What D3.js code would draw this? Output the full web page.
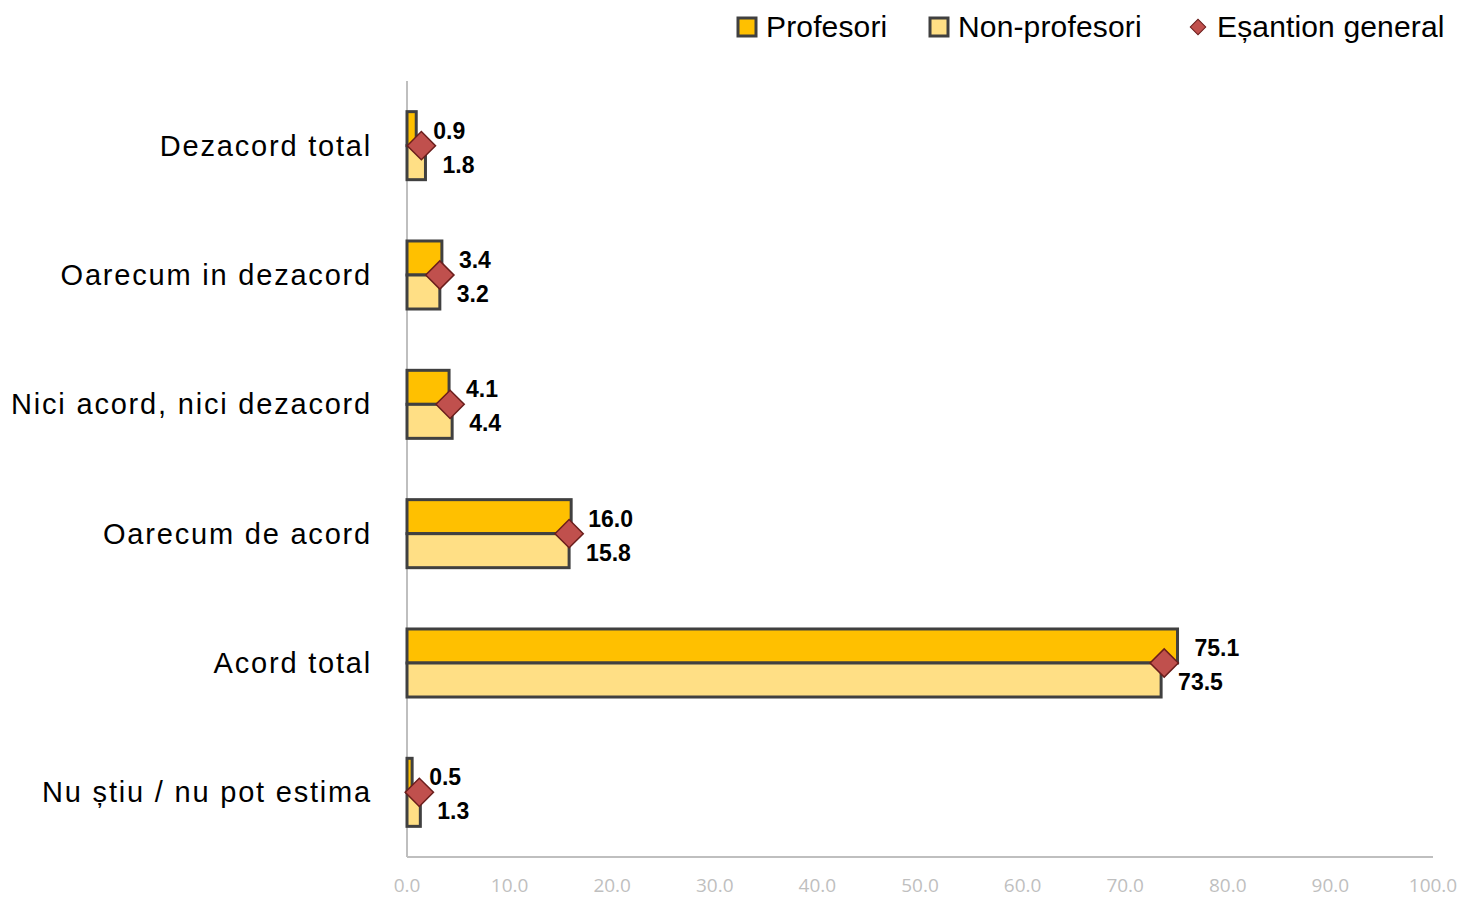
<!DOCTYPE html>
<html>
<head>
<meta charset="utf-8">
<script src="https://cdn.jsdelivr.net/npm/d3@7"></script>
<style>
  body { margin: 0; background: #fff; }
  svg { display: block; font-family: "Liberation Sans", Arial, sans-serif; }
</style>
</head>
<body>
<div id="chart"></div>
<script>
const categories = [`Dezacord total`, `Oarecum in dezacord`, `Nici acord, nici dezacord`, `Oarecum de acord`, `Acord total`, `Nu știu / nu pot estima`];
const profesori = [0.9, 3.4, 4.1, 16.0, 75.1, 0.5];
const nonProfesori = [1.8, 3.2, 4.4, 15.8, 73.5, 1.3];
const esantion = [1.4, 3.2, 4.2, 15.8, 73.8, 1.2];
const xTicks = [0, 10, 20, 30, 40, 50, 60, 70, 80, 90, 100];
const seriesNames = [`Profesori`, `Non-profesori`];
const seriesColors = [`#FFC000`, `#FFDF85`];

const width = 1463, height = 899;
const margin = { top: 81, right: 30, bottom: 42, left: 407 };

const svg = d3.select(`#chart`).append(`svg`)
    .attr(`width`, width)
    .attr(`height`, height);

const x = d3.scaleLinear()
  .domain([0, 100])
  .range([margin.left, width - margin.right]);

const y = d3.scaleBand()
  .domain(categories)
  .range([margin.top, height - margin.bottom])
  .paddingInner(0.474)
  .paddingOuter(0.237);

const ySub = d3.scaleBand()
  .domain(seriesNames)
  .range([0, y.bandwidth()]);

// axes lines
svg.append(`line`)
    .attr(`x1`, x(0)).attr(`x2`, x(100))
    .attr(`y1`, height - margin.bottom).attr(`y2`, height - margin.bottom)
    .attr(`stroke`, `#BFBFBF`).attr(`stroke-width`, 2);
svg.append(`line`)
    .attr(`x1`, x(0)).attr(`x2`, x(0))
    .attr(`y1`, margin.top).attr(`y2`, height - margin.bottom)
    .attr(`stroke`, `#BFBFBF`).attr(`stroke-width`, 2);

// x tick labels
svg.selectAll(`.tick-label`)
    .data(xTicks)
  .enter().append(`text`)
    .attr(`class`, `tick-label`)
    .attr(`x`, (d) => x(d))
    .attr(`y`, height - margin.bottom + 28)
    .attr(`dy`, `0.35em`)
    .attr(`text-anchor`, `middle`)
    .attr(`fill`, `#BFBFBF`)
    .style(`font-family`, `"Open Sans", sans-serif`)
    .style(`font-size`, `19px`)
    .text((d) => d3.format(`.1f`)(d));

// category labels
svg.selectAll(`.cat-label`)
    .data(categories)
  .enter().append(`text`)
    .attr(`class`, `cat-label`)
    .attr(`x`, 372)
    .attr(`y`, (d) => y(d) + y.bandwidth() / 2)
    .attr(`dy`, `0.35em`)
    .attr(`text-anchor`, `end`)
    .attr(`fill`, `#000`)
    .style(`font-size`, `29px`)
    .style(`letter-spacing`, `1.8px`)
    .text((d) => d);

// bars
const allSeries = [profesori, nonProfesori];
allSeries.forEach((vals, si) => {
  const name = seriesNames[si];
  svg.selectAll(`.bar-${si}`)
      .data(vals)
    .enter().append(`rect`)
      .attr(`class`, `bar-${si}`)
      .attr(`x`, x(0))
      .attr(`y`, (d, i) => y(categories[i]) + ySub(name))
      .attr(`width`, (d) => x(d) - x(0))
      .attr(`height`, ySub.bandwidth())
      .attr(`fill`, seriesColors[si])
      .attr(`stroke`, `#404040`)
      .attr(`stroke-width`, 3);

  svg.selectAll(`.val-${si}`)
      .data(vals)
    .enter().append(`text`)
      .attr(`class`, `val-${si}`)
      .attr(`x`, (d) => x(d) + 17)
      .attr(`y`, (d, i) => y(categories[i]) + ySub(name) + ySub.bandwidth() / 2 + 2)
      .attr(`dy`, `0.35em`)
      .attr(`fill`, `#000`)
      .style(`font-size`, `23px`)
      .style(`font-weight`, `bold`)
      .text((d) => d3.format(`.1f`)(d));
});

// esantion diamonds
const diamond = d3.symbol().type(d3.symbolSquare).size(400);
svg.selectAll(`.diamond`)
    .data(esantion)
  .enter().append(`path`)
    .attr(`class`, `diamond`)
    .attr(`d`, diamond)
    .attr(`transform`, (d, i) => `translate(${x(d)},${y(categories[i]) + y.bandwidth() / 2}) rotate(45)`)
    .attr(`fill`, `#C0504D`)
    .attr(`stroke`, `#6B1E1C`)
    .attr(`stroke-width`, 1.5);

// legend
const legend = svg.append(`g`).attr(`class`, `legend`);
const legendItems = [
  { label: `Profesori`, type: `rect`, color: seriesColors[0], x: 738 },
  { label: `Non-profesori`, type: `rect`, color: seriesColors[1], x: 930 },
  { label: `Eșantion general`, type: `diamond`, color: `#C0504D`, x: 1189 }
];
legendItems.forEach((item) => {
  if (item.type === `rect`) {
    legend.append(`rect`)
        .attr(`x`, item.x).attr(`y`, 18)
        .attr(`width`, 18).attr(`height`, 18)
        .attr(`fill`, item.color)
        .attr(`stroke`, `#404040`)
        .attr(`stroke-width`, 3);
  } else {
    legend.append(`path`)
        .attr(`d`, d3.symbol().type(d3.symbolSquare).size(120))
        .attr(`transform`, `translate(${item.x + 9},27) rotate(45)`)
        .attr(`fill`, item.color)
        .attr(`stroke`, `#6B1E1C`)
        .attr(`stroke-width`, 1);
  }
  legend.append(`text`)
      .attr(`x`, item.x + 28)
      .attr(`y`, 26)
      .attr(`dy`, `0.35em`)
      .attr(`fill`, `#000`)
      .style(`font-size`, `30px`)
      .style(`letter-spacing`, `0.15px`)
      .text(item.label);
});
</script>
</body>
</html>
